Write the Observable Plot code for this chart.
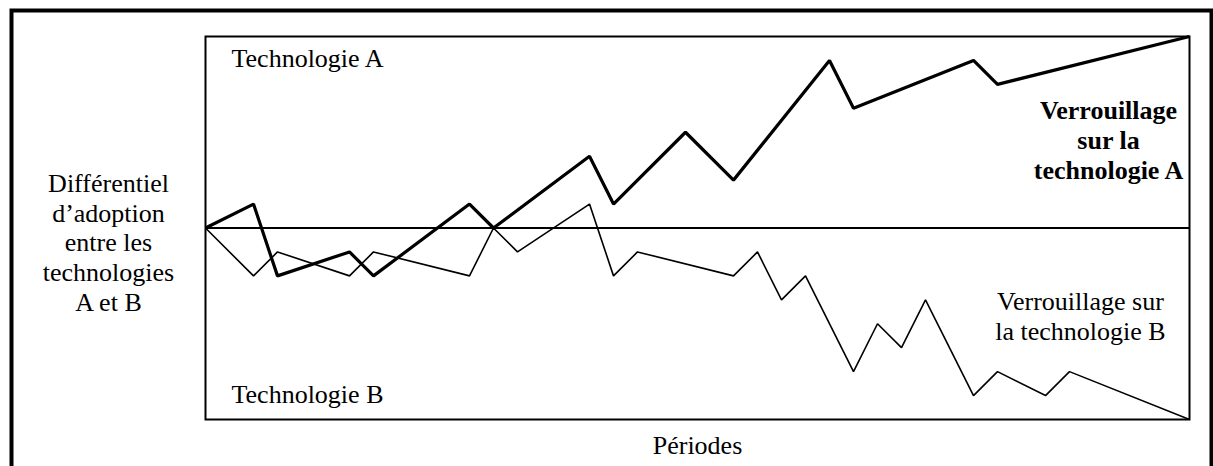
<!DOCTYPE html>
<html>
<head>
<meta charset="utf-8">
<script src="https://cdn.jsdelivr.net/npm/d3@7"></script>
<script src="https://cdn.jsdelivr.net/npm/@observablehq/plot@0.6"></script>
<style>
  html, body { margin: 0; padding: 0; background: #fff; overflow: hidden; }
  #chart { width: 1213px; height: 466px; }
</style>
</head>
<body>
<div id="chart"></div>
<script>
// Technology A path (thick line): period, adoption differential
const periodsA = [0, 2, 3, 6, 7, 11, 12, 16, 17, 20, 22, 26, 27, 32, 33, 41];
const valuesA  = [0, 1, -2, -1, -2, 1, 0, 3, 1, 4, 2, 7, 5, 7, 6, 8];
// Technology B path (thin line)
const periodsB = [0, 2, 3, 6, 7, 11, 12, 13, 16, 17, 18, 22, 23, 24, 25, 27, 28, 29, 30, 32, 33, 35, 36, 41];
const valuesB  = [0, -2, -1, -2, -1, -2, 0, -1, 1, -2, -1, -2, -1, -3, -2, -6, -4, -5, -3, -7, -6, -7, -6, -8];

const labelTopLeft = "Technologie A";
const labelBottomLeft = "Technologie B";
const lockA = "Verrouillage\nsur la\ntechnologie A";
const lockB = "Verrouillage sur\nla technologie B";
const yLabel = "Différentiel\nd’adoption\nentre les\ntechnologies\nA et B";
const xLabel = "Périodes";

const lineA = periodsA.map((p, i) => ({period: p, value: valuesA[i]}));
const lineB = periodsB.map((p, i) => ({period: p, value: valuesB[i]}));

const font = "'Liberation Serif', 'Times New Roman', serif";
const fs = 26;
const lh = 1.135;

const chart = Plot.plot({
  width: 1213,
  height: 466,
  marginLeft: 205,
  marginRight: 24,
  marginTop: 36,
  marginBottom: 47,
  x: {domain: [0, 41], axis: null},
  y: {domain: [-8, 8], axis: null},
  style: {fontFamily: font, fontSize: fs + "px", background: "#fff", overflow: "visible"},
  marks: [
    // outer border of the figure
    Plot.frame({stroke: "#000", strokeWidth: 4, insetLeft: -194, insetTop: -26, insetRight: -22, insetBottom: -80}),
    // inner chart box
    Plot.frame({stroke: "#000", strokeWidth: 2}),
    Plot.ruleY([0], {stroke: "#000", strokeWidth: 2}),
    Plot.line(lineB, {x: "period", y: "value", stroke: "#000", strokeWidth: 1.6, strokeLinejoin: "miter", strokeLinecap: "butt"}),
    Plot.line(lineA, {x: "period", y: "value", stroke: "#000", strokeWidth: 3.2, strokeLinejoin: "miter", strokeLinecap: "butt"}),
    Plot.text([labelTopLeft], {frameAnchor: "top-left", textAnchor: "start", lineAnchor: "bottom", dx: 26, dy: 30.5, fontFamily: font, fontSize: fs, fill: "#000"}),
    Plot.text([labelBottomLeft], {frameAnchor: "bottom-left", textAnchor: "start", lineAnchor: "bottom", dx: 26, dy: -17, fontFamily: font, fontSize: fs, fill: "#000"}),
    Plot.text([lockA], {frameAnchor: "top-right", textAnchor: "middle", lineAnchor: "bottom", lineHeight: lh, dx: -81, dy: 142, fontFamily: font, fontSize: fs, fontWeight: "bold", fill: "#000"}),
    Plot.text([lockB], {frameAnchor: "top-right", textAnchor: "middle", lineAnchor: "bottom", lineHeight: lh, dx: -109, dy: 303, fontFamily: font, fontSize: fs, fill: "#000"}),
    Plot.text([yLabel], {frameAnchor: "top-left", textAnchor: "middle", lineAnchor: "bottom", lineHeight: lh, dx: -97, dy: 274, fontFamily: font, fontSize: fs, fill: "#000"}),
    Plot.text([xLabel], {frameAnchor: "bottom", textAnchor: "middle", lineAnchor: "bottom", dy: 34, fontFamily: font, fontSize: fs, fill: "#000"})
  ]
});
document.getElementById("chart").appendChild(chart);
</script>
</body>
</html>
